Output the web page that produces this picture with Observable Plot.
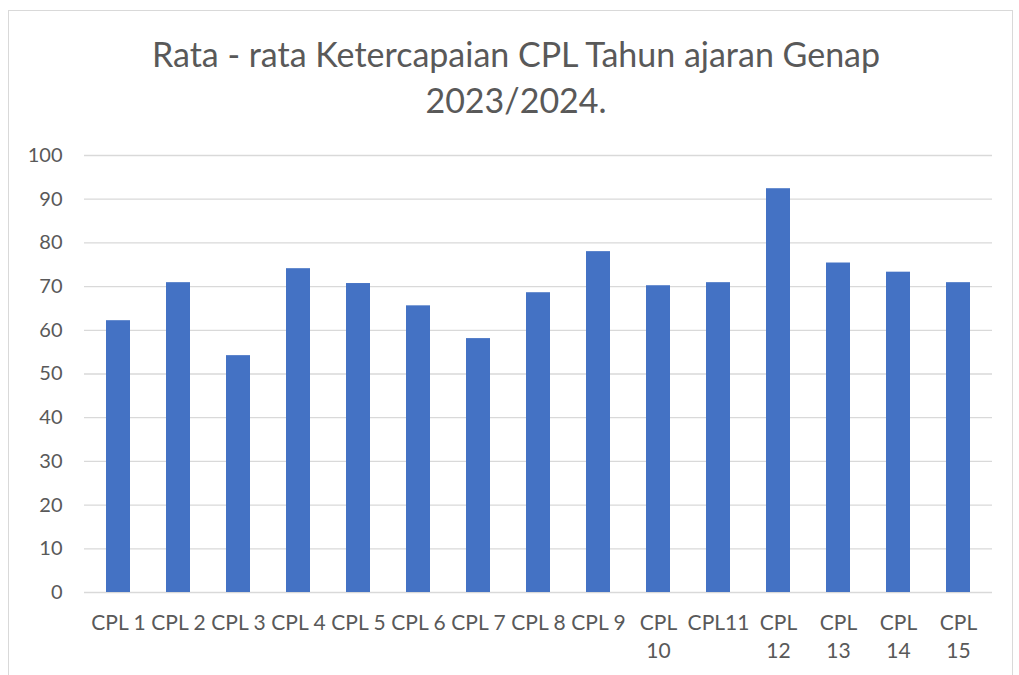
<!DOCTYPE html>
<html><head><meta charset="utf-8">
<script src="https://cdn.jsdelivr.net/npm/d3@7"></script>
<script src="https://cdn.jsdelivr.net/npm/@observablehq/plot@0.6"></script>
<style>
body{margin:0;background:#fff;width:1019px;height:675px;overflow:hidden;position:relative;font-family:Lato,"Open Sans",sans-serif;}
#frame{position:absolute;left:8px;top:10px;width:1003px;height:700px;border:1px solid #d9d9d9;}
#title{position:absolute;left:0;top:31px;width:1032px;text-align:center;font-size:34px;line-height:46px;color:#595959;font-weight:400;}
#chart{position:absolute;left:0;top:0;}
</style></head><body>
<div id="frame"></div>
<div id="title">Rata - rata Ketercapaian CPL Tahun ajaran Genap<br>2023/2024.</div>
<div id="chart"></div>
<script>
const categories = ["CPL 1","CPL 2","CPL 3","CPL 4","CPL 5","CPL 6","CPL 7","CPL 8","CPL 9","CPL 10","CPL 11","CPL 12","CPL 13","CPL 14","CPL 15"];
const tickLabels = ["CPL 1","CPL 2","CPL 3","CPL 4","CPL 5","CPL 6","CPL 7","CPL 8","CPL 9","CPL\n10","CPL11","CPL\n12","CPL\n13","CPL\n14","CPL\n15"];
const values = [62.2,70.9,54.2,74.1,70.7,65.6,58.1,68.6,78.0,70.2,70.9,92.4,75.4,73.3,70.9];
const yTicks = [0,10,20,30,40,50,60,70,80,90,100];

const data = categories.map((c,i)=>({cat:c, value:values[i]}));
const labelOf = new Map(categories.map((c,i)=>[c,tickLabels[i]]));

const plot = Plot.plot({
  width:1019, height:675,
  marginTop:155, marginBottom:83, marginLeft:84, marginRight:27,
  style:{fontFamily:"Lato, 'Open Sans', sans-serif", color:"#595959", background:"transparent"},
  x:{domain:categories, paddingInner:0.6, paddingOuter:0.3, label:null},
  y:{domain:[0,100], label:null},
  marks:[
    Plot.ruleY(yTicks,{stroke:"#d9d9d9",strokeWidth:1.3}),
    Plot.barY(data,{x:"cat",y:"value",fill:"#4472c4"}),
    Plot.axisY({ticks:yTicks, tickSize:0, tickPadding:22, label:null, fill:"#595959", fontSize:20}),
    Plot.axisX({tickSize:0, tickPadding:18, label:null, fill:"#595959", fontSize:21, lineHeight:1.33, tickFormat:d=>labelOf.get(d)})
  ]
});
document.getElementById("chart").appendChild(plot);
</script>
</body></html>
